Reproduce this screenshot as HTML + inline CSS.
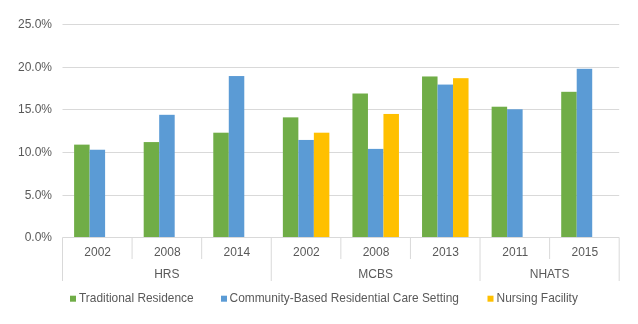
<!DOCTYPE html>
<html><head><meta charset="utf-8"><style>
html,body{margin:0;padding:0;background:#fff;}
body{width:638px;height:324px;overflow:hidden;}
svg{display:block;will-change:transform;}
text{font-family:"Liberation Sans",sans-serif;font-size:12px;fill:#595959;}
</style></head><body>
<svg width="638" height="324" viewBox="0 0 638 324">
<rect width="638" height="324" fill="#fff"/>
<line x1="62.5" y1="24.5" x2="619.2" y2="24.5" stroke="#D9D9D9" stroke-width="1"/>
<line x1="62.5" y1="67.5" x2="619.2" y2="67.5" stroke="#D9D9D9" stroke-width="1"/>
<line x1="62.5" y1="109.5" x2="619.2" y2="109.5" stroke="#D9D9D9" stroke-width="1"/>
<line x1="62.5" y1="152.5" x2="619.2" y2="152.5" stroke="#D9D9D9" stroke-width="1"/>
<line x1="62.5" y1="195.5" x2="619.2" y2="195.5" stroke="#D9D9D9" stroke-width="1"/>
<text x="52" y="28.1" text-anchor="end">25.0%</text>
<text x="52" y="71.1" text-anchor="end">20.0%</text>
<text x="52" y="113.1" text-anchor="end">15.0%</text>
<text x="52" y="156.1" text-anchor="end">10.0%</text>
<text x="52" y="199.1" text-anchor="end">5.0%</text>
<text x="52" y="241.1" text-anchor="end">0.0%</text>
<rect x="74.10" y="144.63" width="15.5" height="92.87" fill="#70AD47"/>
<rect x="89.60" y="149.74" width="15.5" height="87.76" fill="#5B9BD5"/>
<rect x="143.69" y="142.08" width="15.5" height="95.42" fill="#70AD47"/>
<rect x="159.19" y="114.81" width="15.5" height="122.69" fill="#5B9BD5"/>
<rect x="213.28" y="132.70" width="15.5" height="104.80" fill="#70AD47"/>
<rect x="228.78" y="76.05" width="15.5" height="161.45" fill="#5B9BD5"/>
<rect x="282.86" y="117.37" width="15.5" height="120.13" fill="#70AD47"/>
<rect x="298.36" y="139.95" width="15.5" height="97.55" fill="#5B9BD5"/>
<rect x="313.86" y="132.70" width="15.5" height="104.80" fill="#FFC000"/>
<rect x="352.45" y="93.51" width="15.5" height="143.99" fill="#70AD47"/>
<rect x="367.95" y="148.89" width="15.5" height="88.61" fill="#5B9BD5"/>
<rect x="383.45" y="113.96" width="15.5" height="123.54" fill="#FFC000"/>
<rect x="422.04" y="76.47" width="15.5" height="161.03" fill="#70AD47"/>
<rect x="437.54" y="84.57" width="15.5" height="152.93" fill="#5B9BD5"/>
<rect x="453.04" y="78.18" width="15.5" height="159.32" fill="#FFC000"/>
<rect x="491.63" y="106.72" width="15.5" height="130.78" fill="#70AD47"/>
<rect x="507.13" y="109.27" width="15.5" height="128.23" fill="#5B9BD5"/>
<rect x="561.21" y="91.81" width="15.5" height="145.69" fill="#70AD47"/>
<rect x="576.71" y="68.80" width="15.5" height="168.70" fill="#5B9BD5"/>
<line x1="62.5" y1="237.5" x2="619.2" y2="237.5" stroke="#D9D9D9" stroke-width="1"/>
<line x1="62.5" y1="237.5" x2="62.5" y2="281" stroke="#D9D9D9" stroke-width="1"/>
<line x1="132.0875" y1="237.5" x2="132.0875" y2="259" stroke="#D9D9D9" stroke-width="1"/>
<line x1="201.675" y1="237.5" x2="201.675" y2="259" stroke="#D9D9D9" stroke-width="1"/>
<line x1="271.26250000000005" y1="237.5" x2="271.26250000000005" y2="281" stroke="#D9D9D9" stroke-width="1"/>
<line x1="340.85" y1="237.5" x2="340.85" y2="259" stroke="#D9D9D9" stroke-width="1"/>
<line x1="410.4375" y1="237.5" x2="410.4375" y2="259" stroke="#D9D9D9" stroke-width="1"/>
<line x1="480.02500000000003" y1="237.5" x2="480.02500000000003" y2="281" stroke="#D9D9D9" stroke-width="1"/>
<line x1="549.6125000000001" y1="237.5" x2="549.6125000000001" y2="259" stroke="#D9D9D9" stroke-width="1"/>
<line x1="619.2" y1="237.5" x2="619.2" y2="281" stroke="#D9D9D9" stroke-width="1"/>
<text x="97.69" y="256.0" text-anchor="middle">2002</text>
<text x="167.28" y="256.0" text-anchor="middle">2008</text>
<text x="236.87" y="256.0" text-anchor="middle">2014</text>
<text x="306.46" y="256.0" text-anchor="middle">2002</text>
<text x="376.04" y="256.0" text-anchor="middle">2008</text>
<text x="445.63" y="256.0" text-anchor="middle">2013</text>
<text x="515.22" y="256.0" text-anchor="middle">2011</text>
<text x="584.81" y="256.0" text-anchor="middle">2015</text>
<text x="166.88" y="277.6" text-anchor="middle">HRS</text>
<text x="375.64" y="277.6" text-anchor="middle">MCBS</text>
<text x="549.61" y="277.6" text-anchor="middle">NHATS</text>
<rect x="70" y="295.7" width="6" height="6" fill="#70AD47"/>
<text x="79" y="302.3" style="font-size:11.9px">Traditional Residence</text>
<rect x="221" y="295.7" width="6" height="6" fill="#5B9BD5"/>
<text x="229.6" y="302.3" style="font-size:11.9px">Community-Based Residential Care Setting</text>
<rect x="487.5" y="295.7" width="6" height="6" fill="#FFC000"/>
<text x="496.6" y="302.3" style="font-size:11.9px">Nursing Facility</text>
</svg>
</body></html>
